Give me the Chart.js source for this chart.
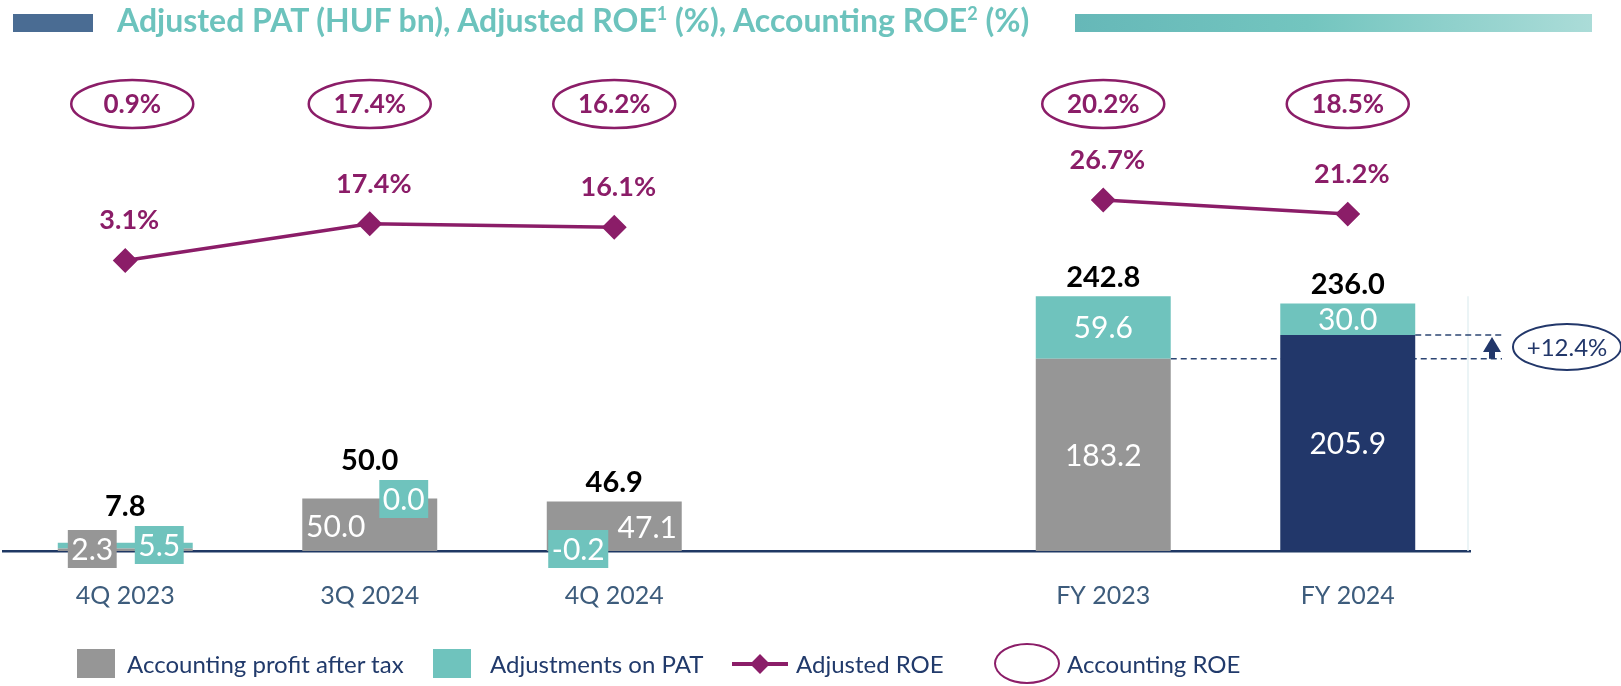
<!DOCTYPE html>
<html lang="en">
<head>
<meta charset="UTF-8">
<title>Adjusted PAT, Adjusted ROE, Accounting ROE</title>
<script src="https://cdn.jsdelivr.net/npm/chart.js"></script>
<style>
  body { margin:0; width:1621px; height:686px; position:relative; background:#fff; font-family: Lato, sans-serif; overflow:hidden; }
  .blk-left { position:absolute; left:13px; top:14px; width:80px; height:18px; background:#4a6c93; }
  .blk-right { position:absolute; left:1075px; top:14px; width:517px; height:18px; background:linear-gradient(90deg,#66b8b8,#73c5bf 45%,#abdcd8); }
  .title { position:absolute; left:117px; top:1px; font-weight:bold; font-size:32px; line-height:38px; color:#6cc3bd; white-space:nowrap; z-index:2; }
  .title sup { font-size:18px; line-height:0; vertical-align:12px; }
  #wrap { position:absolute; left:0; top:0; width:1621px; height:651px; }
  .lg { position:absolute; font-size:24px; line-height:29px; color:#213a6b; white-space:nowrap; top:649px; }
  .sw { position:absolute; top:649px; width:38px; height:29px; }
  .lg-line { position:absolute; left:732px; top:662px; width:56px; height:4px; background:#8b1d68; }
  .lg-dia { position:absolute; left:753px; top:657px; width:14px; height:14px; background:#8b1d68; transform:rotate(45deg); }
  .lg-ell { position:absolute; left:994px; top:643px; width:66px; height:41px; box-sizing:border-box; border:2.5px solid #8b1d68; border-radius:50%; }
</style>
</head>
<body>
<div class="blk-left"></div>
<div class="title">Adjusted PAT (HUF bn), Adjusted ROE<sup>1</sup> (%), Accounting ROE<sup>2</sup> (%)</div>
<div class="blk-right"></div>

<div id="wrap"><canvas id="patChart"></canvas></div>

<span class="sw" style="left:77px;background:#969696"></span>
<span class="lg" style="left:127px">Accounting profit after tax</span>
<span class="sw" style="left:433px;background:#6fc3bd"></span>
<span class="lg" style="left:490px">Adjustments on PAT</span>
<span class="lg-line"></span><span class="lg-dia"></span>
<span class="lg" style="left:796px">Adjusted ROE</span>
<span class="lg-ell"></span>
<span class="lg" style="left:1067px">Accounting ROE</span>

<script>
// data
const categories = ['4Q 2023', '3Q 2024', '4Q 2024', '', 'FY 2023', 'FY 2024'];
const accountingPat = [2.3, 50.0, 47.1, null, 183.2, 205.9];
const adjustmentsPat = [5.5, 0.0, -0.2, null, 59.6, 30.0];
const adjustedPat = [7.8, 50.0, 46.9, null, 242.8, 236.0];
const adjustedRoe = [3.1, 17.4, 16.1, null, 26.7, 21.2];
const accountingRoe = [0.9, 17.4, 16.2, null, 20.2, 18.5];

const GREY = '#969696', TEAL = '#6fc3bd', NAVY = '#22376a', PURPLE = '#8b1d68';

// where the small quarterly labels sit (offset from bar centre / baseline)
const quarterLabelSpots = [
  [{dx: -33, dy: -2, box: true}, {dx: 34, dy: -6, box: true}],
  [{dx: -34, dy: -25, box: false}, {dx: 34, dy: -52, box: true}],
  [{dx: 33, dy: -24, box: false}, {dx: -36, dy: -2, box: true}]
];

function ellipse(ctx, cx, cy, rx, ry, color, width) {
  ctx.beginPath();
  ctx.ellipse(cx, cy, rx, ry, 0, 0, Math.PI * 2);
  ctx.strokeStyle = color;
  ctx.lineWidth = width;
  ctx.stroke();
}

const overlay = {
  id: 'overlay',
  beforeDatasetsDraw(chart) {
    const {ctx, chartArea} = chart;
    const y = chart.scales.y;
    const i23 = categories.indexOf('FY 2023');
    const bar23 = chart.getDatasetMeta(0).data[i23];
    ctx.save();
    ctx.strokeStyle = '#e4f1f3';
    ctx.lineWidth = 1.5;
    ctx.beginPath();
    ctx.moveTo(chartArea.right - 2, y.getPixelForValue(adjustedPat[i23]));
    ctx.lineTo(chartArea.right - 2, chartArea.bottom);
    ctx.stroke();
    const yLow = y.getPixelForValue(accountingPat[i23]);
    ctx.setLineDash([6, 4]);
    ctx.strokeStyle = '#2c4573';
    ctx.beginPath();
    ctx.moveTo(bar23.x + bar23.width / 2, yLow);
    ctx.lineTo(chartArea.right + 32, yLow);
    ctx.stroke();
    ctx.restore();
  },
  afterDraw(chart) {
    const {ctx, chartArea} = chart;
    const x = chart.scales.x, y = chart.scales.y;
    const m0 = chart.getDatasetMeta(0), m1 = chart.getDatasetMeta(1), m2 = chart.getDatasetMeta(2);
    ctx.save();
    ctx.textAlign = 'center';
    ctx.textBaseline = 'middle';

    // growth marker on the right
    const i23 = categories.indexOf('FY 2023'), i24 = categories.indexOf('FY 2024');
    const bar24 = m0.data[i24];
    const yUp = y.getPixelForValue(accountingPat[i24]);
    const yLow = y.getPixelForValue(accountingPat[i23]);
    ctx.setLineDash([6, 4]);
    ctx.strokeStyle = '#2c4573';
    ctx.lineWidth = 1.5;
    ctx.beginPath();
    ctx.moveTo(bar24.x + bar24.width / 2, yUp);
    ctx.lineTo(chartArea.right + 32, yUp);
    ctx.stroke();
    ctx.setLineDash([]);
    const ax = chartArea.right + 22;
    ctx.fillStyle = NAVY;
    ctx.beginPath();
    ctx.moveTo(ax, yUp + 2);
    ctx.lineTo(ax + 9, yUp + 17);
    ctx.lineTo(ax - 9, yUp + 17);
    ctx.closePath();
    ctx.fill();
    ctx.fillRect(ax - 3, yUp + 16, 6, yLow - yUp - 16);
    const ecx = chartArea.right + 97, ecy = (yUp + yLow) / 2;
    ellipse(ctx, ecx, ecy, 54, 23, NAVY, 2);
    const growth = (accountingPat[i24] / accountingPat[i23] - 1) * 100;
    ctx.font = '24px Lato';
    ctx.fillStyle = NAVY;
    ctx.fillText('+' + growth.toFixed(1) + '%', ecx, ecy + 1);

    // value labels inside / next to bars
    const tops = categories.map((c, i) => m0.data[i] ? Math.min(m0.data[i].y, m1.data[i].y, m0.data[i].base) : 0);
    ctx.font = '30px Lato';
    [accountingPat, adjustmentsPat].forEach((arr, d) => {
      const meta = d ? m1 : m0;
      arr.forEach((v, i) => {
        if (v === null) return;
        const el = meta.data[i];
        const txt = v.toFixed(1);
        if (i < quarterLabelSpots.length) {
          const s = quarterLabelSpots[i][d];
          const cx = el.x + s.dx, cy = chartArea.bottom + s.dy;
          if (s.box) {
            const w = ctx.measureText(txt).width + 7, h = 38;
            ctx.fillStyle = d ? TEAL : GREY;
            ctx.fillRect(cx - w / 2, cy - h / 2, w, h);
            tops[i] = Math.min(tops[i], cy - h / 2);
          }
          ctx.fillStyle = '#fff';
          ctx.fillText(txt, cx, cy + 1);
        } else {
          ctx.fillStyle = '#fff';
          ctx.fillText(txt, el.x, (el.y + el.base) / 2 + 1);
        }
      });
    });

    // totals
    ctx.font = 'bold 29px Lato';
    ctx.fillStyle = '#000';
    adjustedPat.forEach((v, i) => {
      if (v === null) return;
      ctx.fillText(v.toFixed(1), x.getPixelForValue(i), tops[i] - 19);
    });

    // adjusted ROE labels
    ctx.font = 'bold 27px Lato';
    ctx.fillStyle = PURPLE;
    adjustedRoe.forEach((v, i) => {
      if (v === null) return;
      const p = m2.data[i];
      ctx.fillText(v.toFixed(1) + '%', p.x + 4, p.y - 40);
    });

    // accounting ROE in ellipses
    ctx.font = 'bold 26px Lato';
    accountingRoe.forEach((v, i) => {
      if (v === null) return;
      const cx = x.getPixelForValue(i) + (i === 0 ? 7 : 0), cy = chartArea.top + 44;
      ellipse(ctx, cx, cy, 61, 24, PURPLE, 2.5);
      ctx.fillText(v.toFixed(1) + '%', cx, cy + 1);
    });
    ctx.restore();
  }
};

new Chart(document.getElementById('patChart'), {
  type: 'bar',
  data: {
    labels: categories,
    datasets: [
      {
        label: 'Accounting profit after tax',
        data: accountingPat,
        backgroundColor: categories.map(c => c === 'FY 2024' ? NAVY : GREY),
        barPercentage: 0.552,
        categoryPercentage: 1,
        yAxisID: 'y',
        order: 1
      },
      {
        label: 'Adjustments on PAT',
        data: adjustmentsPat,
        backgroundColor: TEAL,
        barPercentage: 0.552,
        categoryPercentage: 1,
        yAxisID: 'y',
        order: 1
      },
      {
        type: 'line',
        label: 'Adjusted ROE',
        data: adjustedRoe,
        yAxisID: 'y2',
        borderColor: PURPLE,
        backgroundColor: PURPLE,
        borderWidth: 3.5,
        pointStyle: 'rectRot',
        pointRadius: 10,
        spanGaps: false,
        order: 0
      }
    ]
  },
  options: {
    responsive: true,
    maintainAspectRatio: false,
    animation: false,
    layout: { autoPadding: false, padding: { top: 60, left: 3, right: 151, bottom: 10 } },
    plugins: { legend: { display: false }, tooltip: { enabled: false } },
    scales: {
      x: {
        stacked: true,
        z: 1,
        grid: { display: false, drawTicks: false },
        border: { display: true, color: '#1f3864', width: 2.5 },
        ticks: { color: '#3d5c7c', font: { family: 'Lato', size: 25 }, padding: 30, autoSkip: false, maxRotation: 0 }
      },
      y: { stacked: true, display: false, min: 0, max: 468 },
      y2: { display: false, min: -110.4, max: 81.4 }
    }
  },
  plugins: [overlay]
});
</script>
</body>
</html>
